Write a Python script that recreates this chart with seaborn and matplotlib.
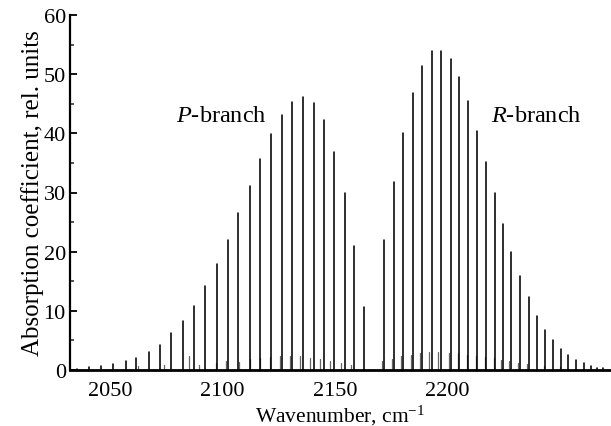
import matplotlib
matplotlib.use("Agg")
import matplotlib.pyplot as plt
import seaborn as sns
import pandas as pd
from matplotlib.ticker import MultipleLocator

# ---- data ----
p_pos = [2035.2, 2040.8, 2046.0, 2051.5, 2057.0, 2061.6, 2067.2, 2072.1, 2077.2,
         2082.6, 2087.3, 2092.2, 2097.6, 2102.3, 2107.0, 2112.4, 2116.8, 2121.4,
         2126.6, 2131.0, 2135.9, 2140.8, 2145.2, 2149.6, 2154.3, 2158.6, 2163.0]
p_height = [0.2, 0.45, 0.7, 1.0, 1.6, 2.0, 3.1, 4.3, 6.2, 8.2, 10.8, 14.2, 17.9,
            22.0, 26.5, 31.1, 35.7, 39.9, 43.1, 45.3, 46.2, 45.2, 42.2, 36.9,
            30.0, 20.9, 10.7]
r_pos = [2171.9, 2176.2, 2180.4, 2184.8, 2188.8, 2193.0, 2197.0, 2201.4, 2205.2,
         2209.1, 2213.2, 2217.2, 2221.0, 2224.5, 2228.2, 2232.2, 2236.1, 2239.6,
         2243.3, 2246.8, 2250.3, 2253.6, 2257.1, 2260.7, 2263.8, 2266.3, 2269.2]
r_height = [22.0, 31.7, 40.1, 46.8, 51.4, 53.9, 54.0, 52.6, 49.5, 45.5, 40.4,
            35.1, 29.9, 24.7, 20.0, 15.9, 12.3, 9.2, 6.8, 5.0, 3.5, 2.5, 1.7,
            1.1, 0.6, 0.3, 0.3]
hot_pos = [2062.5, 2074.0, 2085.0, 2089.5, 2097.0, 2101.5, 2107.5, 2112.0, 2116.5,
           2121.0, 2125.5, 2130.0, 2134.5, 2139.0, 2143.5, 2148.0, 2152.5, 2157.0,
           2171.0, 2175.5, 2179.5, 2184.0, 2188.0, 2192.0, 2196.0, 2200.5, 2204.5,
           2208.5, 2212.5, 2216.5, 2220.5, 2224.0, 2227.5, 2231.5, 2235.5, 2243.0,
           2250.0]
hot_height = [0.6, 0.8, 2.4, 0.8, 1.2, 1.6, 1.4, 1.9, 2.1, 2.2, 2.3, 2.4, 2.3,
              2.0, 1.8, 1.5, 1.2, 0.9, 1.5, 1.9, 2.3, 2.6, 2.9, 3.0, 3.0, 2.9,
              2.8, 2.6, 2.4, 2.2, 2.0, 1.7, 1.5, 1.2, 1.0, 0.7, 0.5]
x_ticks = [2050, 2100, 2150, 2200]
y_ticks = [0, 10, 20, 30, 40, 50, 60]
labels = ["$P$-branch", "$R$-branch"]
label_x = [2079.5, 2219.5]
label_y = [43.0, 43.0]


def sticks(pos, height, tag):
    rows = []
    for i, (x, y) in enumerate(zip(pos, height)):
        rows.append((f"{tag}{i}", x, 0.0))
        rows.append((f"{tag}{i}", x, y))
    return pd.DataFrame(rows, columns=["line", "wavenumber", "absorption"])


main = pd.concat([sticks(p_pos, p_height, "P"), sticks(r_pos, r_height, "R")])
hot = sticks(hot_pos, hot_height, "H")

sns.set_theme(style="ticks")
plt.rcParams["font.family"] = ["Liberation Serif", "DejaVu Serif"]
plt.rcParams["mathtext.fontset"] = "custom"
plt.rcParams["mathtext.rm"] = "Liberation Serif"
plt.rcParams["mathtext.it"] = "Liberation Serif:italic"

fig = plt.figure(figsize=(6.11, 4.27), dpi=100)
ax = fig.add_axes([70 / 611, 1 - 371 / 427, 541 / 611, 355 / 427])

sns.lineplot(data=hot, x="wavenumber", y="absorption", units="line",
             estimator=None, sort=False, color="0.4", lw=0.9, ax=ax)
sns.lineplot(data=main, x="wavenumber", y="absorption", units="line",
             estimator=None, sort=False, color="black", lw=1.15, ax=ax)

for t, x, y in zip(labels, label_x, label_y):
    ax.text(x, y, t, fontsize=17.5, va="center", ha="left", color="black")

ax.set_xlim(2032.2, 2272.7)
ax.set_ylim(0, 60)
ax.set_xticks(x_ticks)
ax.set_yticks(y_ticks)
ax.yaxis.set_minor_locator(MultipleLocator(5))
ax.tick_params(axis="x", length=0, pad=8, labelsize=16, colors="black")
ax.tick_params(axis="y", which="major", direction="in", length=5, width=1.3,
               labelsize=16, pad=3, colors="black")
ax.tick_params(axis="y", which="minor", direction="in", length=3, width=1.1,
               left=True)
for s in ["top", "right"]:
    ax.spines[s].set_visible(False)
ax.spines["left"].set_linewidth(1.6)
ax.spines["bottom"].set_linewidth(2.0)
ax.spines["left"].set_color("black")
ax.spines["bottom"].set_color("black")

ax.set_xlabel("Wavenumber, cm$^{-1}$", fontsize=15.5, labelpad=2, color="black")
ax.set_ylabel("Absorption coefficient, rel. units", fontsize=18, labelpad=0,
              color="black")

fig.savefig("out.png", dpi=100)
